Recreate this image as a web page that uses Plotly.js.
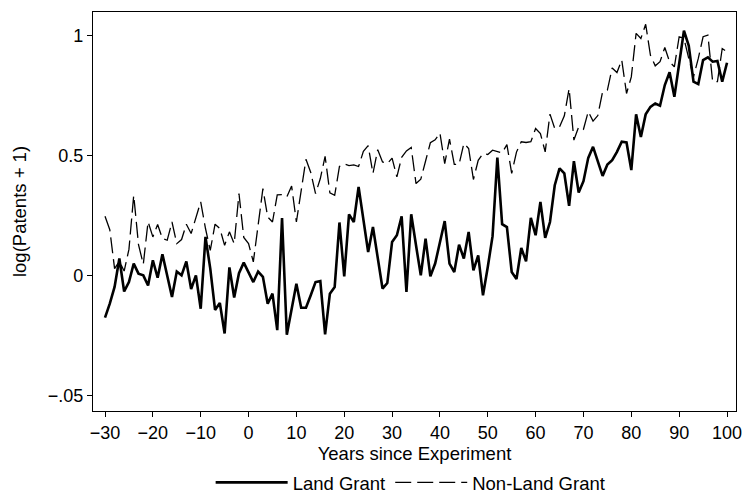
<!DOCTYPE html>
<html>
<head>
<meta charset="utf-8">
<script src="https://cdn.plot.ly/plotly-3.0.1.min.js"></script>
<style>html,body{margin:0;padding:0;background:#fff;}#chart{width:744px;height:496px;}</style>
</head>
<body>
<div id="chart"></div>
<script>
// Years since experiment
const years = [];
for (let y = -30; y <= 100; y++) years.push(y);

// Land Grant (solid)
const landGrant = [
 -0.174,-0.116,-0.046,0.072,-0.065,-0.026,0.051,0.009,0.002,-0.040,
 0.065,-0.008,0.090,-0.005,-0.088,0.018,0.002,0.060,-0.055,0.002,
 -0.137,0.162,0.030,-0.142,-0.113,-0.240,0.035,-0.090,0.011,0.055,
 0.015,-0.026,0.018,-0.004,-0.116,-0.074,-0.226,0.240,-0.245,-0.130,
 -0.033,-0.133,-0.133,-0.081,-0.026,-0.022,-0.244,-0.074,-0.047,0.222,
 -0.002,0.256,0.224,0.370,0.238,0.099,0.203,0.078,-0.053,-0.030,
 0.141,0.169,0.248,-0.067,0.256,0.127,0.002,0.155,-0.002,0.051,
 0.141,0.228,0.051,0.016,0.130,0.072,0.183,0.023,0.085,-0.081,
 0.037,0.165,0.492,0.215,0.203,0.016,-0.013,0.116,0.060,0.241,
 0.169,0.308,0.158,0.224,0.377,0.447,0.426,0.291,0.477,0.347,
 0.394,0.491,0.537,0.474,0.416,0.463,0.481,0.516,0.558,0.555,
 0.440,0.672,0.578,0.672,0.703,0.717,0.708,0.794,0.847,0.745,
 0.884,1.020,0.958,0.808,0.798,0.898,0.909,0.891,0.894,0.808,
 0.887
];

// Non-Land Grant (dashed)
const nonLandGrant = [
 0.248,0.192,0.030,0.060,0.020,0.110,0.335,0.130,0.048,0.225,
 0.162,0.214,0.155,0.148,0.224,0.134,0.151,0.215,0.176,0.238,
 0.308,0.197,0.106,0.215,0.197,0.127,0.183,0.134,0.342,0.160,
 0.134,0.058,0.200,0.363,0.245,0.224,0.337,0.338,0.328,0.374,
 0.224,0.365,0.485,0.430,0.342,0.405,0.497,0.345,0.335,0.455,
 0.466,0.459,0.462,0.455,0.518,0.542,0.426,0.525,0.474,0.467,
 0.490,0.412,0.493,0.520,0.534,0.384,0.402,0.478,0.554,0.566,
 0.594,0.467,0.569,0.464,0.464,0.551,0.530,0.401,0.481,0.509,
 0.505,0.523,0.518,0.512,0.546,0.426,0.515,0.558,0.555,0.558,
 0.613,0.592,0.516,0.673,0.613,0.620,0.666,0.779,0.565,0.620,
 0.610,0.684,0.644,0.667,0.767,0.773,0.865,0.846,0.898,0.759,
 0.828,1.009,0.988,1.047,0.918,0.874,0.891,0.950,0.891,0.870,
 0.995,0.988,0.905,0.828,0.905,0.995,1.002,0.808,0.808,0.946,
 0.932
];

const yTickVals = [-0.5, 0, 0.5, 1];
const yTickText = ["\u2212.05", "0", "0.5", "1"];
const xTickVals = [-30,-20,-10,0,10,20,30,40,50,60,70,80,90,100];

const FONT = "Liberation Sans, Arial, Helvetica, sans-serif";

const traces = [
  {x: years, y: landGrant, type: 'scatter', mode: 'lines', name: 'Land Grant',
   line: {color: '#000', width: 2.6}},
  {x: years, y: nonLandGrant, type: 'scatter', mode: 'lines', name: 'Non-Land Grant',
   line: {color: '#000', width: 1.3, dash: '16px,6px'}}
];

const layout = {
  width: 744, height: 496,
  margin: {l: 93, r: 8, t: 12, b: 85, autoexpand: false},
  paper_bgcolor: '#fff', plot_bgcolor: '#fff',
  font: {family: FONT, size: 18, color: '#000'},
  showlegend: true,
  legend: {orientation: 'h', x: 0.494, xanchor: 'center', y: -0.18, yanchor: 'middle',
           font: {size: 18.5}, itemwidth: 72, traceorder: 'normal'},
  xaxis: {range: [-32.51, 101.88], tickvals: xTickVals, ticks: 'outside', ticklen: 5,
          tickcolor: '#000', showgrid: false, zeroline: false, showline: true, mirror: true,
          linecolor: '#000', linewidth: 1.2, automargin: false, tickfont: {size: 18},
          title: {text: 'Years since Experiment', font: {size: 18.5}, standoff: 5}},
  yaxis: {range: [-0.5625, 1.098], tickvals: yTickVals, ticktext: yTickText, ticks: 'outside',
          ticklen: 5, tickcolor: '#000', showgrid: false, zeroline: false, showline: true,
          mirror: true, linecolor: '#000', linewidth: 1.2, automargin: false, tickfont: {size: 18},
          title: {text: 'log(Patents + 1)', font: {size: 18.5}, standoff: 16}}
};

Plotly.newPlot('chart', traces, layout, {displayModeBar: false, staticPlot: true});
</script>
</body>
</html>
